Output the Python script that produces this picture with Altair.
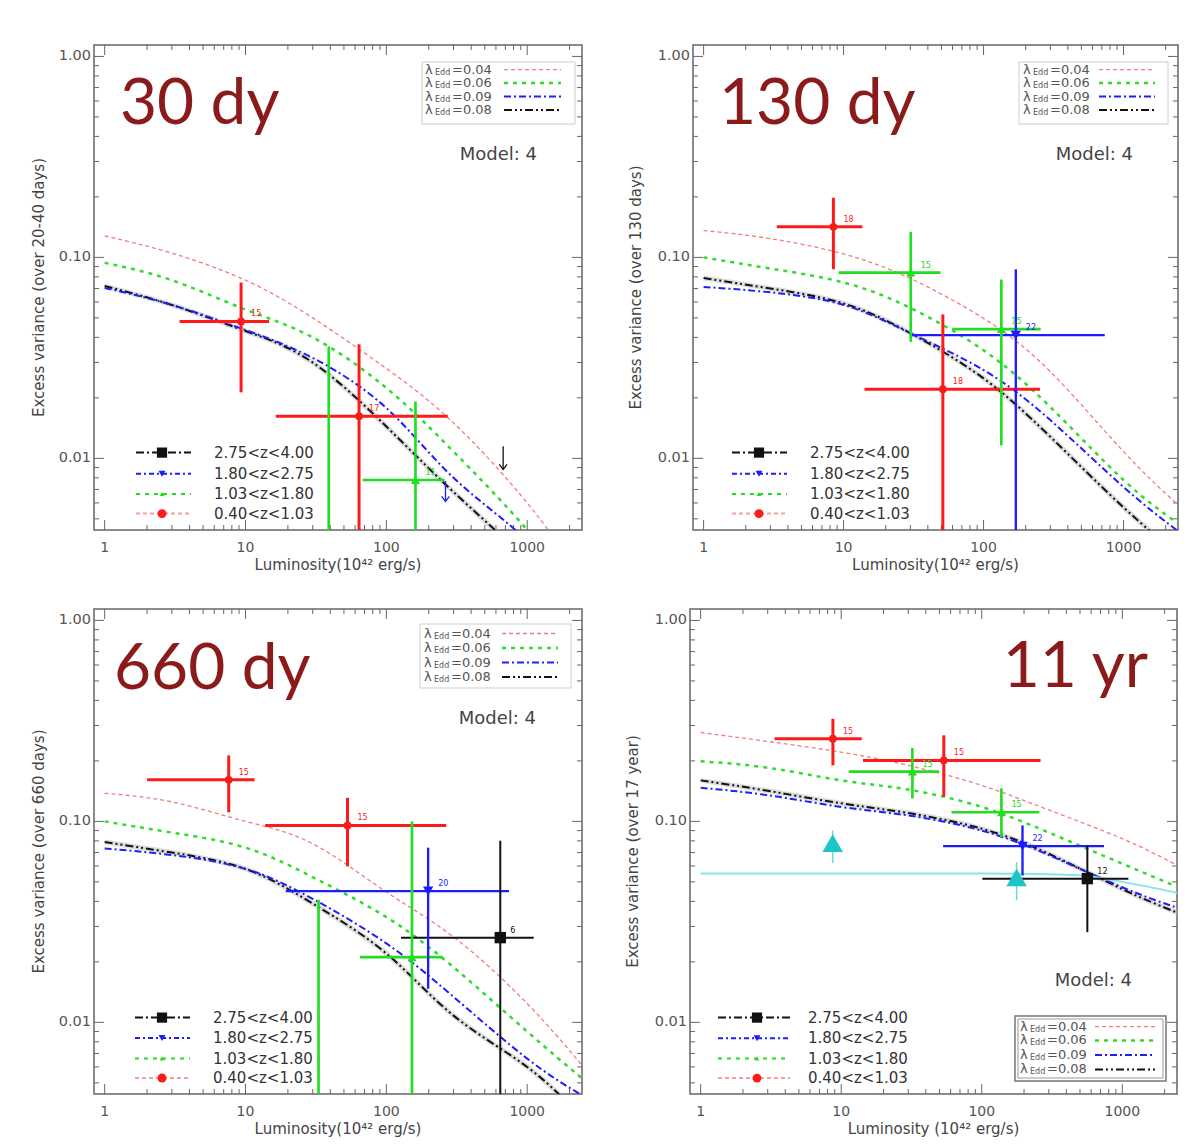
import altair as alt
import pandas as pd

# ---------------- values ----------------
L_grid = [1, 3, 10, 30, 100, 300, 1000, 2500]

# model curves (lambda_Edd = 0.04, 0.06, 0.09, 0.08)
p1_lam004 = [0.128, 0.105, 0.077, 0.050, 0.028, 0.0150, 0.0060, 0.0025]
p1_lam006 = [0.094, 0.077, 0.055, 0.040, 0.0224, 0.0108, 0.0044, 0.0019]
p1_lam009 = [0.0705, 0.058, 0.0435, 0.0316, 0.0178, 0.0080, 0.0039, 0.0018]
p1_lam008 = [0.072, 0.058, 0.043, 0.030, 0.0144, 0.0068, 0.0031, 0.0015]

p2_lam004 = [0.136, 0.124, 0.104, 0.0785, 0.0497, 0.027, 0.0108, 0.0058]
p2_lam006 = [0.100, 0.088, 0.075, 0.056, 0.0345, 0.018, 0.0078, 0.0047]
p2_lam009 = [0.0713, 0.067, 0.058, 0.042, 0.0275, 0.0155, 0.0072, 0.0043]
p2_lam008 = [0.079, 0.070, 0.059, 0.042, 0.025, 0.0128, 0.0057, 0.0033]

p3_lam004 = [0.138, 0.125, 0.100, 0.0774, 0.0445, 0.0266, 0.0124, 0.0060]
p3_lam006 = [0.100, 0.088, 0.074, 0.0528, 0.0334, 0.0188, 0.0090, 0.0052]
p3_lam009 = [0.0734, 0.068, 0.058, 0.0412, 0.0247, 0.0134, 0.0066, 0.0043]
p3_lam008 = [0.079, 0.070, 0.058, 0.039, 0.022, 0.0108, 0.0060, 0.0033]

p4_lam004 = [0.277, 0.250, 0.221, 0.190, 0.151, 0.114, 0.082, 0.060]
p4_lam006 = [0.199, 0.185, 0.160, 0.144, 0.118, 0.088, 0.0616, 0.047]
p4_lam009 = [0.147, 0.135, 0.118, 0.107, 0.090, 0.068, 0.047, 0.037]
p4_lam008 = [0.160, 0.142, 0.123, 0.110, 0.092, 0.069, 0.046, 0.035]

# redshift bins
Z_BINS = ["2.75<z<4.00", "1.80<z<2.75", "1.03<z<1.80", "0.40<z<1.03"]
LAM_VALUES = ["0.04", "0.06", "0.09", "0.08"]

# data points: panel 1 (30 dy)
p1_grp = ["0.40<z<1.03", "0.40<z<1.03", "1.03<z<1.80", "1.03<z<1.80"]
p1_L = [9.3, 64, 161, 39]
p1_Llo = [3.4, 16.4, 67.8, 39]
p1_Lhi = [14.7, 273, 259, 39]
p1_v = [0.048, 0.0162, 0.0078, 0.001]
p1_vlo = [0.0213, 0.001, 0.001, 0.001]
p1_vhi = [0.075, 0.037, 0.0192, 0.036]
p1_n = ["15", "17", "11", ""]
p1_arr_grp = ["1.80<z<2.75", "2.75<z<4.00"]
p1_arr_L = [263, 675]
p1_arr_from = [0.0077, 0.0115]
p1_arr_to = [0.0061, 0.0088]

# panel 2 (130 dy)
p2_grp = ["0.40<z<1.03", "1.03<z<1.80", "0.40<z<1.03", "1.03<z<1.80", "1.80<z<2.75"]
p2_L = [8.46, 30.2, 51.2, 134, 170]
p2_Llo = [3.33, 9.2, 14.1, 59.7, 29.7]
p2_Lhi = [13.6, 49.3, 253, 256, 734]
p2_v = [0.142, 0.084, 0.0221, 0.044, 0.041]
p2_vlo = [0.0873, 0.038, 0.001, 0.0116, 0.001]
p2_vhi = [0.198, 0.134, 0.052, 0.0776, 0.0873]
p2_n = ["18", "15", "18", "15", "22"]

# panel 3 (660 dy)
p3_grp = ["0.40<z<1.03", "0.40<z<1.03", "1.03<z<1.80", "1.03<z<1.80", "1.80<z<2.75", "2.75<z<4.00"]
p3_L = [7.6, 53, 33, 152, 198, 644]
p3_Llo = [2.0, 13.8, 33, 65, 19.3, 127]
p3_Lhi = [11.6, 266, 33, 252, 743, 1112]
p3_v = [0.161, 0.0955, 0.001, 0.0211, 0.045, 0.0264]
p3_vlo = [0.111, 0.0597, 0.001, 0.001, 0.0147, 0.001]
p3_vhi = [0.213, 0.131, 0.0407, 0.100, 0.074, 0.080]
p3_n = ["15", "15", "", "", "20", "6"]

# panel 4 (11 yr)
p4_grp = ["0.40<z<1.03", "0.40<z<1.03", "1.03<z<1.80", "1.03<z<1.80", "1.80<z<2.75", "2.75<z<4.00"]
p4_L = [8.73, 53.7, 32.1, 138, 195, 564]
p4_Llo = [3.36, 14.3, 11.3, 60.9, 53.1, 101]
p4_Lhi = [14.0, 262, 49.7, 257, 741, 1105]
p4_v = [0.258, 0.201, 0.177, 0.111, 0.0753, 0.0519]
p4_vlo = [0.19, 0.133, 0.13, 0.0835, 0.0538, 0.0281]
p4_vhi = [0.324, 0.268, 0.232, 0.146, 0.0955, 0.076]
p4_n = ["15", "15", "15", "15", "22", "12"]
p4_cyl_L = [1, 100, 500, 1000, 2500]
p4_cyl_v = [0.055, 0.055, 0.054, 0.050, 0.044]
p4_cyt_L = [8.7, 177]
p4_cyt_v = [0.078, 0.0526]
p4_cyt_lo = [0.062, 0.0405]
p4_cyt_hi = [0.090, 0.0628]

# axis tick values and labels
X_MAJ = [1, 10, 100, 1000]
X_LAB = ["1", "10", "100", "1000"]
X_MIN = [2, 3, 4, 5, 6, 7, 8, 9, 20, 30, 40, 50, 60, 70, 80, 90,
         200, 300, 400, 500, 600, 700, 800, 900, 2000]
Y_MAJ = [0.01, 0.1, 1.0]
Y_LAB = ["0.01", "0.10", "1.00"]
Y_MIN = [0.005, 0.006, 0.007, 0.008, 0.009, 0.02, 0.03, 0.04, 0.05, 0.06,
         0.07, 0.08, 0.09, 0.2, 0.3, 0.4, 0.5, 0.6, 0.7, 0.8, 0.9]

# ---------------- styles ----------------
F = "DejaVu Sans"
TICK_C = "#666666"
Z_COLOR = ["#111111", "#1c1cff", "#22dd22", "#ff1a1a"]
Z_SHAPE = ["square", "triangle-down", "triangle-up", "circle"]
Z_SIZE = [130, 60, 30, 100]
Z_WIDTH = [2, 3, 2, 2]
Z_LEG_COLOR = ["#111111", "#1c1cff", "#22dd22", "#f5a0a0"]
Z_LEG_DASH = [[8, 3, 2, 3], [5, 3, 2, 3], [4, 5], [4, 3]]
LAM_STYLE = {
    "0.04": dict(color="#f27c7c", strokeDash=[4, 3], strokeWidth=1.3),
    "0.06": dict(color="#2fdc2f", strokeDash=[4, 5], strokeWidth=2.5),
    "0.09": dict(color="#1e1eff", strokeDash=[7, 3, 2, 3], strokeWidth=2),
    "0.08": dict(color="#111111", strokeDash=[8, 3, 2, 3, 2, 3], strokeWidth=2),
}

XS = alt.Scale(type="log", domain=[0.84, 2450], nice=False)
YS = alt.Scale(type="log", domain=[0.0044, 1.14], nice=False)
DUMMY = pd.DataFrame({"d": [0]})

COL = alt.Color("grp:N", scale=alt.Scale(domain=Z_BINS, range=Z_COLOR), legend=None)
SW = alt.StrokeWidth("grp:O", scale=alt.Scale(domain=Z_BINS, range=Z_WIDTH), legend=None)
SHP = alt.Shape("grp:N", scale=alt.Scale(domain=Z_BINS, range=Z_SHAPE), legend=None)
SZ = alt.Size("grp:O", scale=alt.Scale(domain=Z_BINS, range=Z_SIZE), legend=None)


def label(text, x, y, align, size, color, font, baseline="alphabetic", angle=None):
    kw = dict(align=align, baseline=baseline, fontSize=size, font=font, color=color)
    if angle is not None:
        kw["angle"] = angle
    return alt.Chart(DUMMY).mark_text(**kw).encode(
        x=alt.value(x), y=alt.value(y), text=alt.value(text))


def axis_texts(W, H, xtitle, ytitle, ytx):
    dx = pd.DataFrame({"t": X_MAJ, "s": X_LAB})
    dy = pd.DataFrame({"t": Y_MAJ, "s": Y_LAB})
    xl = alt.Chart(dx).mark_text(baseline="middle", align="center", fontSize=14, font=F,
                                 color="#555").encode(
        x=alt.X("t:Q", scale=XS, axis=None), y=alt.value(H + 18), text="s:N")
    yl = alt.Chart(dy).mark_text(baseline="middle", align="right", fontSize=14.5, font=F,
                                 color="#555").encode(
        y=alt.Y("t:Q", scale=YS, axis=None), x=alt.value(-3), text="s:N")
    xt = label(xtitle, W / 2, H + 35, "center", 15, "#444", F, "middle")
    yt = label(ytitle, ytx, H / 2, "center", 15, "#444", F, "middle", angle=270)
    return [xl, yl, xt, yt]


def ticks(W, H):
    out = []
    for vals, ln in ((X_MAJ, 10), (X_MIN, 5)):
        d = pd.DataFrame({"t": vals})
        base = alt.Chart(d).mark_rule(color=TICK_C, strokeWidth=1)
        xe = alt.X("t:Q", scale=XS, axis=None)
        out.append(base.encode(x=xe, y=alt.value(H), y2=alt.value(H - ln)))
        out.append(base.encode(x=xe, y=alt.value(0), y2=alt.value(ln)))
    for vals, ln in ((Y_MAJ, 10), (Y_MIN, 5)):
        d = pd.DataFrame({"t": vals})
        base = alt.Chart(d).mark_rule(color=TICK_C, strokeWidth=1)
        ye = alt.Y("t:Q", scale=YS, axis=None)
        out.append(base.encode(y=ye, x=alt.value(0), x2=alt.value(ln)))
        out.append(base.encode(y=ye, x=alt.value(W), x2=alt.value(W - ln)))
    return out


def curves(curve_lists):
    out = []
    d8 = pd.DataFrame({"L": L_grid, "v": curve_lists["0.08"]})
    out.append(alt.Chart(d8).mark_line(clip=True, interpolate="natural", color="#bbbbbb",
                                       strokeWidth=5, opacity=0.5).encode(
        x=alt.X("L:Q", scale=XS, axis=None), y=alt.Y("v:Q", scale=YS, axis=None)))
    for lam in ["0.08", "0.09", "0.06", "0.04"]:
        d = pd.DataFrame({"L": L_grid, "v": curve_lists[lam]})
        out.append(alt.Chart(d).mark_line(clip=True, interpolate="natural", **LAM_STYLE[lam])
                   .encode(x=alt.X("L:Q", scale=XS, axis=None), y=alt.Y("v:Q", scale=YS, axis=None)))
    return out


def points(grp, L, Llo, Lhi, v, vlo, vhi, n):
    df = pd.DataFrame({"grp": grp, "L": L, "Llo": Llo, "Lhi": Lhi, "v": v,
                       "vlo": vlo, "vhi": vhi, "n": n})
    xe = alt.X("L:Q", scale=XS, axis=None)
    ye = alt.Y("v:Q", scale=YS, axis=None)
    h = alt.Chart(df).mark_rule(clip=True).encode(
        x=alt.X("Llo:Q", scale=XS, axis=None), x2="Lhi:Q", y=ye, color=COL, strokeWidth=SW)
    vb = alt.Chart(df).mark_rule(clip=True).encode(
        x=xe, y=alt.Y("vlo:Q", scale=YS, axis=None), y2="vhi:Q", color=COL, strokeWidth=SW)
    p = alt.Chart(df).mark_point(filled=True, opacity=1, clip=True).encode(
        x=xe, y=ye, color=COL, shape=SHP, size=SZ)
    t = alt.Chart(df).transform_filter("datum.n != ''").mark_text(
        align="left", dx=10, dy=-7, fontSize=8, font=F).encode(x=xe, y=ye, text="n:N", color=COL)
    return [h, vb, p, t]


def arrows(grp, L, a, b):
    df = pd.DataFrame({"grp": grp, "L": L, "a": a, "b": b})
    xe = alt.X("L:Q", scale=XS, axis=None)
    r = alt.Chart(df).mark_rule(clip=True, strokeWidth=1.3).encode(
        x=xe, y=alt.Y("a:Q", scale=YS, axis=None), y2="b:Q", color=COL)
    hd = alt.Chart(df).mark_point(shape="M-1,-1.3L0,0L1,-1.3", filled=False, strokeWidth=1.3,
                                  size=60, opacity=1).encode(
        x=xe, y=alt.Y("b:Q", scale=YS, axis=None), color=COL)
    return [r, hd]


def z_legend(rows, xl0, xl1, xm, xt):
    out = []
    for i, zb in enumerate(Z_BINS):
        yr = rows[i]
        out.append(alt.Chart(DUMMY).mark_rule(color=Z_LEG_COLOR[i], strokeDash=Z_LEG_DASH[i],
                                              strokeWidth=2)
                   .encode(x=alt.value(xl0), x2=alt.value(xl1), y=alt.value(yr)))
        out.append(alt.Chart(DUMMY).mark_point(shape=Z_SHAPE[i], filled=True, opacity=1,
                                               color=Z_COLOR[i], size=Z_SIZE[i] * 0.8)
                   .encode(x=alt.value(xm), y=alt.value(yr)))
        out.append(alt.Chart(DUMMY).mark_text(align="left", baseline="middle", fontSize=15,
                                              font=F, color="#333")
                   .encode(x=alt.value(xt), y=alt.value(yr), text=alt.value(zb)))
    return out


def lam_legend(box, rows, xl, xa, xb, double=False):
    x0, y0, x1, y1 = box
    out = []
    if double:
        out.append(alt.Chart(DUMMY).mark_rect(fill="white", stroke="#777", strokeWidth=1.5)
                   .encode(x=alt.value(x0), x2=alt.value(x1), y=alt.value(y0), y2=alt.value(y1)))
        out.append(alt.Chart(DUMMY).mark_rect(fill="white", stroke="#999", strokeWidth=1)
                   .encode(x=alt.value(x0 + 3), x2=alt.value(x1 - 3), y=alt.value(y0 + 3),
                           y2=alt.value(y1 - 3)))
    else:
        out.append(alt.Chart(DUMMY).mark_rect(fill="white", stroke="#cccccc", strokeWidth=1)
                   .encode(x=alt.value(x0), x2=alt.value(x1), y=alt.value(y0), y2=alt.value(y1)))
    for i, lam in enumerate(LAM_VALUES):
        yr = rows[i]
        tx = dict(align="left", baseline="middle", font=F, color="#555")
        out.append(alt.Chart(DUMMY).mark_text(fontSize=13, **tx)
                   .encode(x=alt.value(xl), y=alt.value(yr), text=alt.value("λ")))
        out.append(alt.Chart(DUMMY).mark_text(fontSize=8, **tx)
                   .encode(x=alt.value(xl + 10), y=alt.value(yr + 3), text=alt.value("Edd")))
        out.append(alt.Chart(DUMMY).mark_text(fontSize=13, **tx)
                   .encode(x=alt.value(xl + 27), y=alt.value(yr), text=alt.value("=" + lam)))
        st = LAM_STYLE[lam]
        out.append(alt.Chart(DUMMY).mark_rule(color=st["color"], strokeDash=st["strokeDash"],
                                              strokeWidth=st["strokeWidth"])
                   .encode(x=alt.value(xa), x2=alt.value(xb), y=alt.value(yr)))
    return out


H = 485

# panel 1
W1 = 488
l1 = ticks(W1, H)
l1 += curves({"0.04": p1_lam004, "0.06": p1_lam006, "0.09": p1_lam009, "0.08": p1_lam008})
l1 += points(p1_grp, p1_L, p1_Llo, p1_Lhi, p1_v, p1_vlo, p1_vhi, p1_n)
l1 += arrows(p1_arr_grp, p1_arr_L, p1_arr_from, p1_arr_to)
l1 += z_legend([407.6, 428.7, 449, 468.6], 42, 97, 68, 120)
l1 += lam_legend((328, 17, 481, 79), [24.7, 38, 51.5, 65], 331, 410, 467)
l1 += [label("30 dy", 26, 79, "left", 64, "#8b1a1a", "Lato"),
       label("Model:  4", 443, 110, "right", 18, "#444", F, "middle")]
l1 += axis_texts(W1, H, "Luminosity(10⁴² erg/s)", "Excess variance (over 20-40 days)", -55)
P1 = alt.layer(*l1).properties(width=W1, height=H)

# panel 2
W2 = 485
l2 = ticks(W2, H)
l2 += curves({"0.04": p2_lam004, "0.06": p2_lam006, "0.09": p2_lam009, "0.08": p2_lam008})
l2 += points(p2_grp, p2_L, p2_Llo, p2_Lhi, p2_v, p2_vlo, p2_vhi, p2_n)
l2 += z_legend([407.6, 428.7, 449, 468.6], 39, 94, 66, 117)
l2 += lam_legend((326, 17, 475, 79), [24.7, 38, 51.5, 65], 330, 406, 462)
l2 += [label("130 dy", 26, 79, "left", 64, "#8b1a1a", "Lato"),
       label("Model:  4", 440, 110, "right", 18, "#444", F, "middle")]
l2 += axis_texts(W2, H, "Luminosity(10⁴² erg/s)", "Excess variance (over 130 days)", -57)
P2 = alt.layer(*l2).properties(width=W2, height=H)

# panel 3
W3 = 488
l3 = ticks(W3, H)
l3 += curves({"0.04": p3_lam004, "0.06": p3_lam006, "0.09": p3_lam009, "0.08": p3_lam008})
l3 += points(p3_grp, p3_L, p3_Llo, p3_Lhi, p3_v, p3_vlo, p3_vhi, p3_n)
l3 += z_legend([408.6, 429, 449.5, 469], 41, 96, 68, 119)
l3 += lam_legend((326, 15, 477, 79), [24.5, 39, 53.5, 68], 330, 408, 464)
l3 += [label("660 dy", 20, 80, "left", 64, "#8b1a1a", "Lato"),
       label("Model:  4", 442, 110, "right", 18, "#444", F, "middle")]
l3 += axis_texts(W3, H, "Luminosity(10⁴² erg/s)", "Excess variance (over 660 days)", -55)
P3 = alt.layer(*l3).properties(width=W3, height=H)

# panel 4
W4 = 487
l4 = ticks(W4, H)
l4 += curves({"0.04": p4_lam004, "0.06": p4_lam006, "0.09": p4_lam009, "0.08": p4_lam008})
cyl = pd.DataFrame({"L": p4_cyl_L, "v": p4_cyl_v})
l4.append(alt.Chart(cyl).mark_line(clip=True, interpolate="monotone", color="#80e6e6", strokeWidth=2)
          .encode(x=alt.X("L:Q", scale=XS, axis=None), y=alt.Y("v:Q", scale=YS, axis=None)))
cyt = pd.DataFrame({"L": p4_cyt_L, "v": p4_cyt_v, "lo": p4_cyt_lo, "hi": p4_cyt_hi})
l4.append(alt.Chart(cyt).mark_rule(clip=True, color="#66dddd", strokeWidth=1.5)
          .encode(x=alt.X("L:Q", scale=XS, axis=None), y=alt.Y("lo:Q", scale=YS, axis=None), y2="hi:Q"))
l4 += points(p4_grp, p4_L, p4_Llo, p4_Lhi, p4_v, p4_vlo, p4_vhi, p4_n)
l4.append(alt.Chart(cyt).mark_point(clip=True, shape="triangle-up", filled=True, opacity=1,
                                    color="#1cc6c6", size=420)
          .encode(x=alt.X("L:Q", scale=XS, axis=None), y=alt.Y("v:Q", scale=YS, axis=None)))
l4 += z_legend([408.6, 429.3, 449.5, 469.1], 28, 100, 67, 118)
l4 += lam_legend((325, 407, 476, 472), [417.7, 431.4, 445.9, 460.4], 330, 405, 465,
                 double=True)
l4 += [label("11 yr", 458, 78, "right", 64, "#8b1a1a", "Lato"),
       label("Model:  4", 442, 372, "right", 18, "#444", F, "middle")]
l4 += axis_texts(W4, H, "Luminosity (10⁴² erg/s)", "Excess variance (over 17 year)", -57)
P4 = alt.layer(*l4).properties(width=W4, height=H)

row1 = alt.hconcat(P1, P2, spacing=44)
row2 = alt.hconcat(P3, P4, spacing=41)
chart = alt.vconcat(row1, row2, spacing=33).properties(
    padding={"left": 23, "top": 35, "right": 5, "bottom": 5},
    background="white",
).configure_view(stroke="#666666", strokeWidth=1.5)

chart.save("out.html", embed_options={"renderer": "svg", "actions": False})
